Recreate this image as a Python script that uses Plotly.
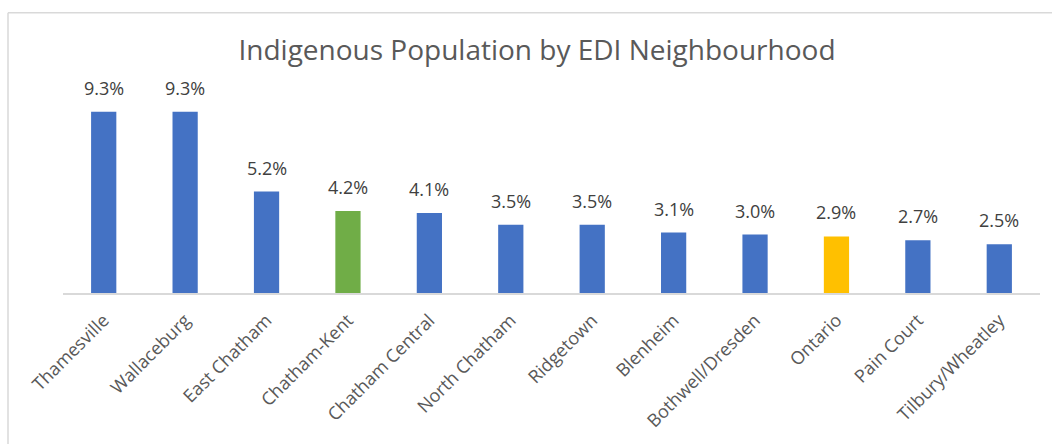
import plotly.graph_objects as go

categories = ["Thamesville", "Wallaceburg", "East Chatham", "Chatham-Kent", "Chatham Central",
              "North Chatham", "Ridgetown", "Blenheim", "Bothwell/Dresden", "Ontario",
              "Pain Court", "Tilbury/Wheatley"]
values = [0.093, 0.093, 0.052, 0.042, 0.041, 0.035, 0.035, 0.031, 0.030, 0.029, 0.027, 0.025]
labels = ["9.3%", "9.3%", "5.2%", "4.2%", "4.1%", "3.5%", "3.5%", "3.1%", "3.0%", "2.9%", "2.7%", "2.5%"]
colors = ["#4472C4"] * 12
colors[3] = "#70AD47"
colors[9] = "#FFC000"

W, H = 1052, 444
L, R, T, B = 63, 12, 98, 147
pw, ph = W - L - R, H - T - B
FONT = "Open Sans, sans-serif"

fig = go.Figure(go.Bar(
    x=categories, y=values, marker=dict(color=colors, line=dict(width=0)),
))

for c, v, t in zip(categories, values, labels):
    fig.add_annotation(x=c, y=v, text=t, showarrow=False, yanchor="bottom", yshift=10,
                       font=dict(family=FONT, size=18, color="#404040"))

fig.update_layout(
    width=W, height=H, margin=dict(l=L, r=R, t=T, b=B),
    paper_bgcolor="white", plot_bgcolor="white",
    bargap=0.69, showlegend=False,
    title=dict(text="Indigenous Population by EDI Neighbourhood", x=537 / W, xanchor="center",
               y=1 - 50 / H, yanchor="middle",
               font=dict(family=FONT, size=28, color="#595959")),
    xaxis=dict(tickangle=-45, showline=True, linecolor="#D9D9D9", linewidth=1.5,
               ticks="", ticklabelstandoff=8,
               tickfont=dict(family=FONT, size=18, color="#595959")),
    yaxis=dict(range=[0, 0.10], visible=False, showgrid=False, zeroline=False),
)

# chart border: only top and left edges are visible in the reference
bx0 = (8 - L) / pw
bx1 = (W + 30 - L) / pw
by_top = (H - B - 11) / ph
by_bot = (H - B - (H + 30)) / ph
fig.add_shape(type="line", xref="paper", yref="paper", x0=bx0, x1=bx1, y0=by_top, y1=by_top,
              line=dict(color="#D9D9D9", width=1.5), layer="below")
fig.add_shape(type="line", xref="paper", yref="paper", x0=bx0, x1=bx0, y0=by_top, y1=by_bot,
              line=dict(color="#D9D9D9", width=1.5), layer="below")

fig.write_html("out.html", config={"displayModeBar": False},
               post_script=("document.documentElement.style.overflow='hidden';"
                            "document.body.style.margin='0';document.body.style.overflow='hidden';"))
